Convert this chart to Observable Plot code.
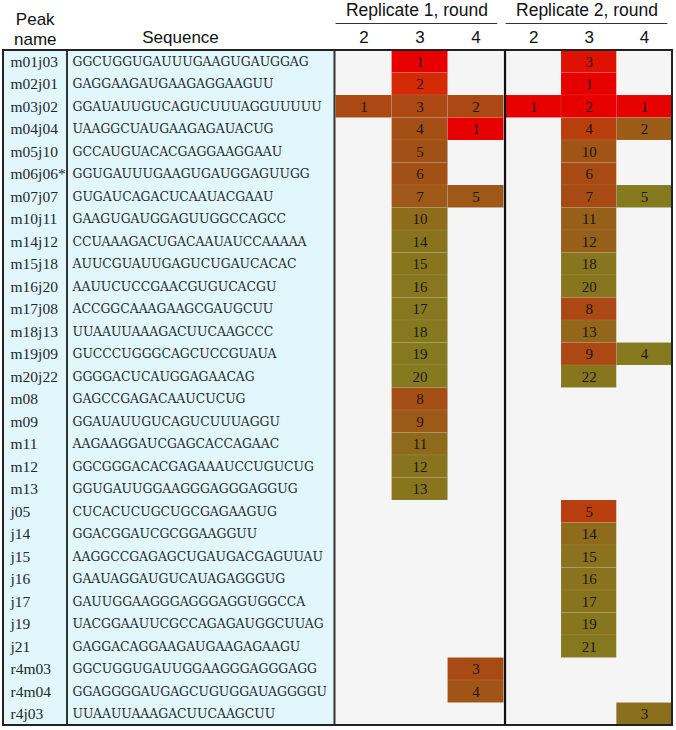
<!DOCTYPE html>
<html><head><meta charset="utf-8">
<script src="https://cdn.jsdelivr.net/npm/d3@7"></script>
<script src="https://cdn.jsdelivr.net/npm/@observablehq/plot@0.6"></script>
<style>body{margin:0;background:#fff}</style>
</head><body><div id="chart"></div>
<script>
const _ = null;
const peaks = ["m01j03","m02j01","m03j02","m04j04","m05j10","m06j06*","m07j07","m10j11","m14j12","m15j18",
  "m16j20","m17j08","m18j13","m19j09","m20j22","m08","m09","m11","m12","m13",
  "j05","j14","j15","j16","j17","j19","j21","r4m03","r4m04","r4j03"];
const sequences = ["GGCUGGUGAUUUGAAGUGAUGGAG","GAGGAAGAUGAAGAGGAAGUU","GGAUAUUGUCAGUCUUUAGGUUUUU","UAAGGCUAUGAAGAGAUACUG",
  "GCCAUGUACACGAGGAAGGAAU","GGUGAUUUGAAGUGAUGGAGUUGG","GUGAUCAGACUCAAUACGAAU","GAAGUGAUGGAGUUGGCCAGCC",
  "CCUAAAGACUGACAAUAUCCAAAAA","AUUCGUAUUGAGUCUGAUCACAC","AAUUCUCCGAACGUGUCACGU","ACCGGCAAAGAAGCGAUGCUU",
  "UUAAUUAAAGACUUCAAGCCC","GUCCCUGGGCAGCUCCGUAUA","GGGGACUCAUGGAGAACAG","GAGCCGAGACAAUCUCUG",
  "GGAUAUUGUCAGUCUUUAGGU","AAGAAGGAUCGAGCACCAGAAC","GGCGGGACACGAGAAAUCCUGUCUG","GGUGAUUGGAAGGGAGGGAGGUG",
  "CUCACUCUGCUGCGAGAAGUG","GGACGGAUCGCGGAAGGUU","AAGGCCGAGAGCUGAUGACGAGUUAU","GAAUAGGAUGUCAUAGAGGGUG",
  "GAUUGGAAGGGAGGGAGGUGGCCA","UACGGAAUUCGCCAGAGAUGGCUUAG","GAGGACAGGAAGAUGAAGAGAAGU","GGCUGGUGAUUGGAAGGGAGGGAGG",
  "GGAGGGGAUGAGCUGUGGAUAGGGGU","UUAAUUAAAGACUUCAAGCUU"];
const columnHeaders = ["Peak", "name", "Sequence"];
const replicateLabels = ["Replicate 1, round", "Replicate 2, round"];
const roundLabels = ["2", "3", "4"];

// rank of each peak (null = absent)
const r1Round2Rank = [_,_,1,_,_,_,_,_,_,_, _,_,_,_,_,_,_,_,_,_, _,_,_,_,_,_,_,_,_,_];
const r1Round3Rank = [1,2,3,4,5,6,7,10,14,15, 16,17,18,19,20,8,9,11,12,13, _,_,_,_,_,_,_,_,_,_];
const r1Round4Rank = [_,_,2,1,_,_,5,_,_,_, _,_,_,_,_,_,_,_,_,_, _,_,_,_,_,_,_,3,4,_];
const r2Round2Rank = [_,_,1,_,_,_,_,_,_,_, _,_,_,_,_,_,_,_,_,_, _,_,_,_,_,_,_,_,_,_];
const r2Round3Rank = [3,1,2,4,10,6,7,11,12,18, 20,8,13,9,22,_,_,_,_,_, 5,14,15,16,17,19,21,_,_,_];
const r2Round4Rank = [_,_,1,2,_,_,5,_,_,_, _,_,_,4,_,_,_,_,_,_, _,_,_,_,_,_,_,_,_,3];

// colour level read from cell shading (0 = red, 1 = olive)
const r1Round2Level = [_,_,0.42,_,_,_,_,_,_,_, _,_,_,_,_,_,_,_,_,_, _,_,_,_,_,_,_,_,_,_];
const r1Round3Level = [0,0.15,0.42,0.5,0.52,0.52,0.58,0.82,0.93,0.95, 0.96,0.97,0.98,0.99,1,0.5,0.6,0.8,0.93,0.94, _,_,_,_,_,_,_,_,_,_];
const r1Round4Level = [_,_,0.42,0,_,_,0.58,_,_,_, _,_,_,_,_,_,_,_,_,_, _,_,_,_,_,_,_,0.45,0.55,_];
const r2Round2Level = [_,_,0,_,_,_,_,_,_,_, _,_,_,_,_,_,_,_,_,_, _,_,_,_,_,_,_,_,_,_];
const r2Round3Level = [0.06,0,0,0.3,0.55,0.45,0.45,0.68,0.68,0.95, 0.95,0.42,0.75,0.42,0.95,_,_,_,_,_, 0.3,0.8,0.9,0.9,0.92,0.95,0.97,_,_,_];
const r2Round4Level = [_,_,0,0.62,_,_,1,_,_,_, _,_,_,1,_,_,_,_,_,_, _,_,_,_,_,_,_,_,_,0.88];

// layout (x in column units, y in row units)
const repStart = [5.966, 9.017];
const colW = [1.004, 0.992];
const nameX = 0.126, seqX = 1.238, seqHeaderX = 3.175;
const nameDiv = 1.139, dataDiv = 5.937, repDiv = 8.996, xEnd = 12.0;
const nRows = peaks.length;

const columns = [
  {rep: 0, round: 0, rank: r1Round2Rank, level: r1Round2Level},
  {rep: 0, round: 1, rank: r1Round3Rank, level: r1Round3Level},
  {rep: 0, round: 2, rank: r1Round4Rank, level: r1Round4Level},
  {rep: 1, round: 0, rank: r2Round2Rank, level: r2Round2Level},
  {rep: 1, round: 1, rank: r2Round3Rank, level: r2Round3Level},
  {rep: 1, round: 2, rank: r2Round4Rank, level: r2Round4Level}
];
const cells = [];
for (const c of columns) {
  c.rank.forEach((r, i) => {
    if (r == null) return;
    const x1 = repStart[c.rep] + c.round * colW[c.rep];
    cells.push({row: i, x1, x2: x1 + colW[c.rep], rank: r, level: c.level[i]});
  });
}
const roundHeads = [];
replicateLabels.forEach((lab, rep) => roundLabels.forEach((r, k) => {
  roundHeads.push({text: r, x: repStart[rep] + (k + 0.5) * colW[rep]});
}));
const repHeads = replicateLabels.map((lab, rep) => ({text: lab, x1: repStart[rep], x2: repStart[rep] + 2.9}));

const sans = "Liberation Sans, Arial, sans-serif";
const serif = "Liberation Serif, Times New Roman, serif";

const chart = Plot.plot({
  width: 676, height: 730,
  marginTop: 0, marginBottom: 5, marginLeft: 3, marginRight: 4,
  x: {domain: [0, xEnd], axis: null},
  y: {domain: [-2.2222, nRows], reverse: true, axis: null},
  color: {type: "linear", domain: [0, 0.15, 0.3, 0.45, 0.6, 0.8, 1],
          range: ["#e60000", "#d42a08", "#b83e0e", "#a84a14", "#9c5a18", "#8e6a1c", "#857a1f"], interpolate: "rgb"},
  style: {background: "white"},
  marks: [
    Plot.rect([{x1: 0, x2: dataDiv, y1: 0, y2: nRows}], {x1: "x1", x2: "x2", y1: "y1", y2: "y2", fill: "#e1f7fb"}),
    Plot.rect([{x1: dataDiv, x2: xEnd, y1: 0, y2: nRows}], {x1: "x1", x2: "x2", y1: "y1", y2: "y2", fill: "#f5f5f5"}),
    Plot.rect(cells, {x1: "x1", x2: "x2", y1: d => d.row, y2: d => d.row + 1, fill: "level",
      stroke: "#ffffff", strokeOpacity: 0.12, strokeWidth: 0.6}),
    Plot.text(cells, {x: d => (d.x1 + d.x2) / 2, y: d => d.row + 0.5, text: "rank",
      fontFamily: serif, fontSize: 15, fill: "#24160e"}),
    Plot.text(peaks, {x: nameX, y: (d, i) => i + 0.5, text: d => d, textAnchor: "start",
      fontFamily: serif, fontSize: 15.5, fill: "#1e2a30"}),
    Plot.text(sequences, {x: seqX, y: (d, i) => i + 0.5, text: d => d, textAnchor: "start",
      fontFamily: "DejaVu Serif, serif", fontSize: 12.4, fill: "#1e2a30"}),
    Plot.ruleX([nameDiv, dataDiv], {x: d => d, y1: 0, y2: nRows, stroke: "#333", strokeWidth: 2}),
    Plot.ruleX([repDiv], {x: d => d, y1: 0, y2: nRows, stroke: "#111", strokeWidth: 2.2}),
    Plot.rect([{x1: 0, x2: xEnd, y1: 0, y2: nRows}], {x1: "x1", x2: "x2", y1: "y1", y2: "y2",
      fill: "none", stroke: "#222", strokeWidth: 2}),
    // headers
    Plot.text([columnHeaders[0]], {x: nameDiv / 2, y: -1.39, text: d => d, fontFamily: sans,
      fontSize: 17, fill: "#111"}),
    Plot.text([columnHeaders[1]], {x: nameDiv / 2, y: -0.5, text: d => d, fontFamily: sans,
      fontSize: 17, fill: "#111"}),
    Plot.text([columnHeaders[2]], {x: seqHeaderX, y: -0.556, text: d => d, fontFamily: sans,
      fontSize: 17, fill: "#111"}),
    Plot.text(repHeads, {x: d => (d.x1 + d.x2) / 2, y: -1.8, text: "text", fontFamily: sans,
      fontSize: 17.5, fill: "#111"}),
    Plot.ruleY(repHeads, {y: -1.2, x1: "x1", x2: "x2", stroke: "#333", strokeWidth: 1.2}),
    Plot.text(roundHeads, {x: "x", y: -0.578, text: "text", fontFamily: sans, fontSize: 17, fill: "#111"})
  ]
});
document.getElementById("chart").appendChild(chart);
</script>
</body></html>
